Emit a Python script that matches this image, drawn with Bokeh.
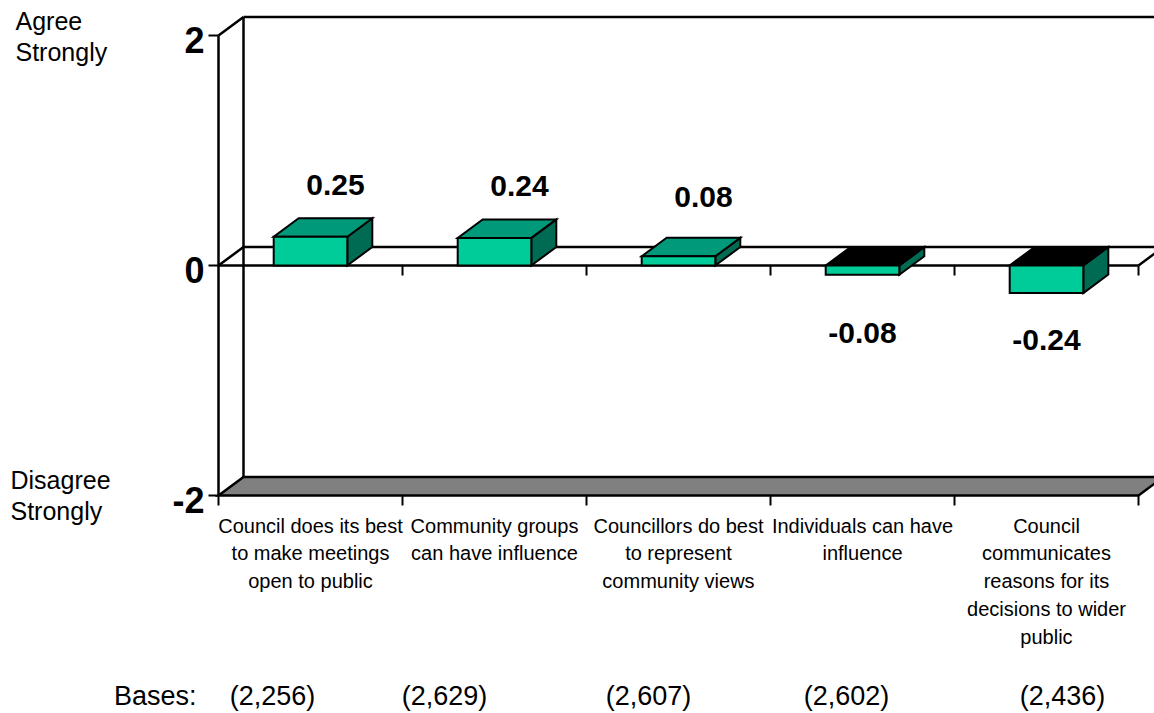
from bokeh.plotting import figure
from bokeh.models import ColumnDataSource, Range1d
from bokeh.embed import file_html
from bokeh.resources import INLINE
from bokeh.core.properties import value

# ---- data -------------------------------------------------------------
statements = [
    "Council does its best\nto make meetings\nopen to public",
    "Community groups\ncan have influence",
    "Councillors do best\nto represent\ncommunity views",
    "Individuals can have\ninfluence",
    "Council\ncommunicates\nreasons for its\ndecisions to wider\npublic",
]
mean_scores = [0.25, 0.24, 0.08, -0.08, -0.24]
bases = ["(2,256)", "(2,629)", "(2,607)", "(2,602)", "(2,436)"]
scale_ticks = [-2, 0, 2]
scale_ends = ["Agree\nStrongly", "Disagree\nStrongly"]

# ---- layout -----------------------------------------------------------
W, H = 1154, 713
PX_PER_CAT = 184.0        # horizontal pixels per category slot
PX_PER_UNIT = 115.0       # vertical pixels per scale point
ORIGIN_PX = (218.0, 265.0)  # front-left corner of the zero plane on the canvas

DX = 25.0 / PX_PER_CAT    # 3-D depth offset, horizontal
DY = 18.5 / PX_PER_UNIT   # 3-D depth offset, vertical
BAR_W = 0.40
LW = 2.5

FONT = value("Liberation Sans")
FRONT = "#00CC99"
TOP = "#00997A"
SIDE = "#006B53"
FLOOR = "#808080"

n = len(mean_scores)
y_lo, y_hi = scale_ticks[0], scale_ticks[-1]


def sx(px):
    return (px - ORIGIN_PX[0]) / PX_PER_CAT


def sy(px):
    return (ORIGIN_PX[1] - px) / PX_PER_UNIT


p = figure(
    width=W, height=H,
    x_range=Range1d(sx(0), sx(W)), y_range=Range1d(sy(H), sy(0)),
    x_axis_location=None, y_axis_location=None,
    toolbar_location=None, output_backend="svg",
    min_border=0, outline_line_color=None,
)
p.grid.visible = False

# ---- walls and floor --------------------------------------------------
p.patch([0, n, n + DX, DX], [y_lo, y_lo, y_lo + DY, y_lo + DY],
        fill_color=FLOOR, line_color="black", line_width=LW, line_join="miter")

wall_x0 = [0, DX, 0, DX, 0, DX, n]
wall_y0 = [y_lo, y_lo + DY, y_hi, y_hi + DY, 0, DY, 0]
wall_x1 = [0, DX, DX, n + DX, DX, n + DX, n + DX]
wall_y1 = [y_hi, y_hi + DY, y_hi + DY, y_hi + DY, DY, DY, DY]
p.segment(wall_x0, wall_y0, wall_x1, wall_y1, line_color="black", line_width=LW)
p.segment([0, n], [0, 0], [n, n], [0, 0], line_color="black", line_width=LW)

# value-axis ticks
p.segment([0] * len(scale_ticks), scale_ticks, [sx(208)] * len(scale_ticks), scale_ticks,
          line_color="black", line_width=2)
# category ticks on the floor edge and below the zero line
tick_len = 10 / PX_PER_UNIT
p.segment(list(range(n + 1)), [y_lo] * (n + 1), list(range(n + 1)), [y_lo - tick_len] * (n + 1),
          line_color="black", line_width=2)
p.segment(list(range(1, n + 1)), [0] * n, list(range(1, n + 1)), [-tick_len] * n,
          line_color="black", line_width=2)

# ---- 3-D bars ---------------------------------------------------------
fx, fy, tx, ty, tc, rx, ry = [], [], [], [], [], [], []
for i, v in enumerate(mean_scores):
    c = i + 0.5
    lo, hi = min(v, 0), max(v, 0)
    x0, x1 = c - BAR_W / 2, c + BAR_W / 2
    fx.append([x0, x1, x1, x0]); fy.append([lo, lo, hi, hi])
    tx.append([x0, x1, x1 + DX, x0 + DX]); ty.append([hi, hi, hi + DY, hi + DY])
    tc.append(TOP if v >= 0 else "black")
    rx.append([x1, x1 + DX, x1 + DX, x1]); ry.append([lo, lo + DY, hi + DY, hi])

p.patches(rx, ry, fill_color=SIDE, line_color="black", line_width=2, line_join="miter")
p.patches("xs", "ys", source=ColumnDataSource(dict(xs=tx, ys=ty, c=tc)),
          fill_color="c", line_color="black", line_width=2, line_join="miter")
p.patches(fx, fy, fill_color=FRONT, line_color="black", line_width=2, line_join="miter")

# value labels
lab_x = [i + 0.5 + (DX if v >= 0 else 0.0) for i, v in enumerate(mean_scores)]
lab_y = [(0.55 + 0.6 * v) if v >= 0 else (-0.56 + 0.35 * v) for v in mean_scores]
lab_t = [f"{v:.2f}" for v in mean_scores]
p.text(lab_x, lab_y, text=lab_t, text_font=FONT, text_font_size="30px",
       text_font_style="bold", text_align="center", text_baseline="middle", text_color="black")

# ---- texts ------------------------------------------------------------
p.text([sx(204)] * len(scale_ticks), [t - 0.04 for t in scale_ticks],
       text=[str(t) for t in scale_ticks], text_font=FONT, text_font_size="36px",
       text_font_style="bold", text_align="right", text_baseline="middle", text_color="black")

p.text([sx(15), sx(10)], [sy(6), sy(465)], text=scale_ends, text_font=FONT,
       text_font_size="25px", text_align="left", text_baseline="top",
       text_line_height=1.12, text_color="black")

p.text([i + 0.5 for i in range(n)], [sy(514)] * n, text=statements, text_font=FONT,
       text_font_size="20px", text_align="center", text_baseline="top",
       text_line_height=1.27, text_color="black")

base_y = sy(695)
p.text([sx(196)], [base_y], text=["Bases:"], text_font=FONT, text_font_size="27px",
       text_align="right", text_baseline="middle", text_color="black")
base_x = [sx(px) for px in (272, 444, 648, 846, 1062)]
p.text(base_x, [base_y] * n, text=bases, text_font=FONT, text_font_size="27px",
       text_align="center", text_baseline="middle", text_color="black")

open("out.html", "w").write(file_html(p, INLINE))
